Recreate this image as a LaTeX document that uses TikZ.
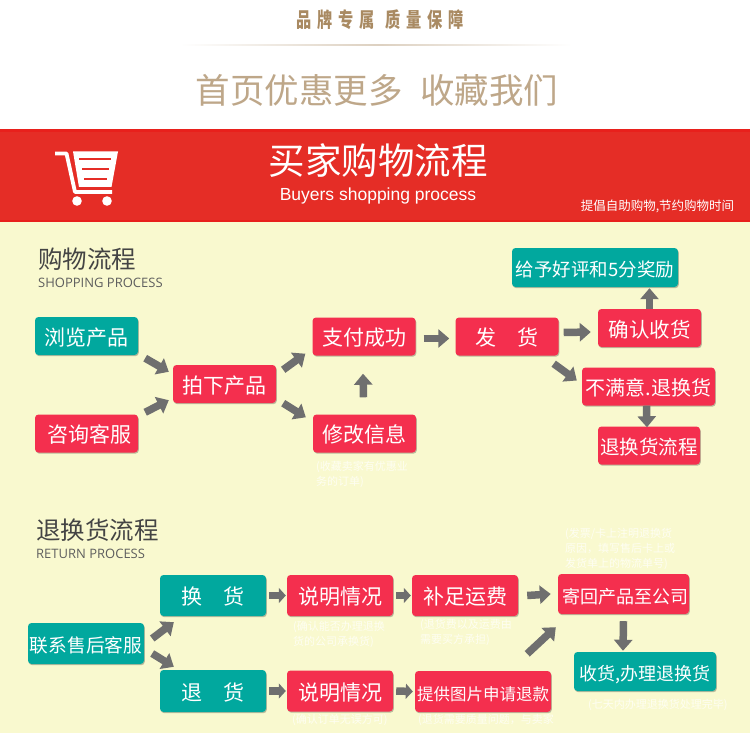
\documentclass[tikz,border=0pt]{standalone}
\usepackage{fontspec}
\usetikzlibrary{arrows.meta,calc,shadows}
\setmainfont{Noto Sans CJK SC}
\setsansfont{Liberation Sans}
\newfontfamily\latinhead{Open Sans}
\definecolor{bgyellow}{HTML}{F9F9CF}
\definecolor{bandred}{HTML}{E52D26}
\definecolor{bandedge}{HTML}{E8201C}
\definecolor{boxred}{HTML}{F42F4E}
\definecolor{boxteal}{HTML}{01A89E}
\definecolor{arrowgray}{HTML}{6F6F6F}
\definecolor{tan}{HTML}{A98A62}
\definecolor{headgray}{HTML}{444444}
\definecolor{capwhite}{HTML}{FEFEF2}
\tikzset{
  x=1pt,y=-1pt,
  flowbox/.style={rounded corners=3.5pt,text=white,inner sep=0pt,anchor=center,align=center,
    text height=18pt,text depth=0pt,
    font=\fontsize{21}{21}\selectfont,
    drop shadow={shadow xshift=0.8pt,shadow yshift=-1.2pt,fill=black,opacity=0.25}},
  redbox/.style={flowbox,fill=boxred},
  tealbox/.style={flowbox,fill=boxteal},
  flow/.style={draw=arrowgray,line width=7.5pt,-{Triangle[length=11pt,width=18pt]}},
  smallflow/.style={draw=arrowgray,line width=7.5pt,-{Triangle[length=7pt,width=15pt]}},
  caption/.style={text=capwhite,align=left,anchor=north west,inner sep=0pt,
    font=\fontsize{11}{15}\selectfont},
}
\begin{document}
\begin{tikzpicture}
\useasboundingbox (0,0) rectangle (750,733);
\fill[white] (0,0) rectangle (750,733);
\fill[bgyellow] (0,222) rectangle (750,733);
\fill[bandred] (0,129) rectangle (750,222);
\fill[bandedge] (0,129) rectangle (750,132);
\fill[bandedge] (0,220) rectangle (750,222);

% top heading
\node[text=tan,inner sep=0pt,font=\fontsize{19}{19}\bfseries\selectfont] (brand) at (380,20) {\scalebox{0.8}[1.08]{\addfontfeature{LetterSpace=38}品牌专属\hspace{14pt}质量保障}};
\shade[left color=white,right color=tan!40] (180,44.6) rectangle (378,45.4);
\shade[left color=tan!40,right color=white] (378,44.6) rectangle (572,45.4);
\node[text=tan!75,inner sep=0pt,font=\fontsize{34.5}{34.5}\selectfont] (slogan) at (377,90) {首页优惠更多\hspace{18pt}收藏我们};

% band
\node[text=white,inner sep=0pt,font=\fontsize{36.5}{36.5}\selectfont] (title) at (378,161) {买家购物流程};
\node[text=white,inner sep=0pt,font=\sffamily\fontsize{17.5}{17.5}\selectfont] (subtitle) at (378,196) {Buyers shopping process};
\node[text=white,inner sep=0pt,font=\fontsize{12.5}{12.5}\selectfont] (slogan2) at (657.5,206) {提倡自助购物,节约购物时间};

% cart
\fill[white] (73,151.5) -- (118,151.5) -- (111.5,187) -- (79,187) -- cycle;
\draw[white,line width=3.8pt,line join=round] (55,153.5) -- (66.5,153.5) -- (75,192) -- (112,192);
\fill[white] (77,201) circle (4.8);
\fill[white] (107,201) circle (4.8);
\draw[bandred,line width=2pt] (79,159) -- (111,159) (82,169) -- (109,169) (84,179) -- (107,179);

% section headings
\node[text=headgray,anchor=west,inner sep=0pt,font=\fontsize{24.5}{24.5}\selectfont] (h1) at (38,259) {购物流程};
\node[text=arrowgray!85!black,anchor=west,inner sep=0pt,font=\latinhead\fontsize{13}{13}\selectfont] (h1e) at (38,283) {SHOPPING PROCESS};
\node[text=headgray,anchor=west,inner sep=0pt,font=\fontsize{24.5}{24.5}\selectfont] (h2) at (36,530) {退换货流程};
\node[text=arrowgray!85!black,anchor=west,inner sep=0pt,font=\latinhead\fontsize{13}{13}\selectfont] (h2e) at (36,554) {RETURN PROCESS};

% shopping process
\node[tealbox,minimum width=103pt,minimum height=38pt] (browse) at (86.5,336) {浏览产品};
\node[redbox,minimum width=103pt,minimum height=38pt] (consult) at (86.5,433.5) {\hspace*{5pt}咨询客服};
\node[redbox,minimum width=103pt,minimum height=38pt] (order) at (224.5,384) {拍下产品};
\node[redbox,minimum width=103pt,minimum height=38pt] (paid) at (364,336.5) {支付成功};
\node[redbox,minimum width=103pt,minimum height=38pt] (modify) at (364.5,433.5) {修改信息};
\node[redbox,minimum width=103pt,minimum height=38pt] (ship) at (507,336.5) {发\hspace{21pt}货};
\node[tealbox,minimum width=166pt,minimum height=39pt,font=\fontsize{18.5}{18.5}\selectfont] (praise) at (595,267.5) {给予好评和5分奖励};
\node[redbox,minimum width=103pt,minimum height=38pt,font=\fontsize{20.5}{20.5}\selectfont] (confirm) at (649.5,328) {确认收货};
\node[redbox,minimum width=133pt,minimum height=38pt,font=\fontsize{20}{20}\selectfont] (unhappy) at (648.5,386.5) {不满意.退换货};
\node[redbox,minimum width=102pt,minimum height=38pt,font=\fontsize{19.5}{19.5}\selectfont] (retflow) at (649,445.5) {退换货流程};

\draw[flow] ($(browse.south east)+(7,3)$) -- ($(order.north west)+(-4,7)$);
\draw[flow] ($(consult.north east)+(7,-2)$) -- ($(order.south west)+(-4,-3)$);
\draw[flow] ($(order.north east)+(7,5)$) -- ($(paid.south west)+(-7,-2)$);
\draw[flow] ($(order.south east)+(7,0)$) -- ($(modify.north west)+(-7,3)$);
\draw[flow] ($(modify.north)+(-1,-17)$) -- ($(paid.south)+(-1,18)$);
\draw[flow] ($(paid.east)+(8,2)$) -- ($(ship.west)+(-6,2)$);
\draw[flow] ($(ship.east)+(5,-4)$) -- ($(confirm.west)+(-7,4)$);
\draw[flow] ($(ship.south east)+(-5,8)$) -- ($(unhappy.west)+(-5,-6)$);
\draw[flow] (confirm.north) -- ($(praise.south)+(54.5,1)$);
\draw[flow] ($(unhappy.south)+(-2,0)$) -- ($(retflow.north)+(-2,1)$);

% return process
\node[tealbox,minimum width=116pt,minimum height=41pt,font=\fontsize{18.7}{18.7}\selectfont] (contact) at (86,643.5) {联系售后客服};
\node[tealbox,minimum width=106pt,minimum height=41pt] (exch) at (213,595.5) {换\hspace{21pt}货};
\node[tealbox,minimum width=106pt,minimum height=42pt] (refund) at (213,691) {退\hspace{21pt}货};
\node[redbox,minimum width=106pt,minimum height=41pt] (state1) at (340,595.5) {说明情况};
\node[redbox,minimum width=106pt,minimum height=41pt] (state2) at (340,691) {说明情况};
\node[redbox,minimum width=106pt,minimum height=41pt] (topup) at (465,595.5) {补足运费};
\node[redbox,minimum width=136pt,minimum height=41pt,font=\fontsize{16.5}{16.5}\selectfont] (photo) at (483,691.5) {提供图片申请退款};
\node[redbox,minimum width=131pt,minimum height=40pt,font=\fontsize{18}{18}\selectfont] (sendback) at (623.5,594) {\hspace*{3pt}寄回产品至公司};
\node[tealbox,minimum width=142pt,minimum height=39pt,font=\fontsize{18}{18}\selectfont] (receive) at (645,671.5) {收货,办理退换货};

\draw[flow] ($(contact.east)+(8,-5)$) -- ($(exch.south west)+(14,6)$);
\draw[flow] ($(contact.east)+(8,10)$) -- ($(refund.north west)+(14,-3)$);
\draw[smallflow] ($(exch.east)+(3,0)$) -- ($(state1.west)+(-1,0)$);
\draw[smallflow] ($(refund.east)+(3,0)$) -- ($(state2.west)+(-1,0)$);
\draw[smallflow] ($(state1.east)+(3,0)$) -- ($(topup.west)+(-1,0)$);
\draw[smallflow] ($(state2.east)+(3,0)$) -- ($(photo.west)+(-2,0)$);
\draw[flow] ($(topup.east)+(9,0)$) -- ($(sendback.west)+(-7,0)$);
\draw[flow] ($(photo.north east)+(-24,-17)$) -- ($(sendback.south west)+(-2,13)$);
\draw[flow] ($(sendback.south)+(0,7)$) -- ($(receive.north)+(-22,-1)$);

% faint captions
\node[caption] (cap1) at (316,461) {(收藏卖家有优惠业\\务的订单)};
\node[caption] (cap2) at (565,528) {(发票/卡上注明退换货\\原因，填写售后卡上或\\发货单上的物流单号)};
\node[caption] (cap3) at (293,621) {(确认能否办理退换\\货的公司承换货)};
\node[caption] (cap4) at (420,619) {(退货费以及运费由\\需要买方承担)};
\node[caption] (cap5) at (292,714) {(确认订单无误方可)};
\node[caption] (cap6) at (418,714) {(退货需要质量问题，与卖家};
\node[caption] (cap7) at (588,699) {(七天内办理退换货处理完毕)};
\end{tikzpicture}
\end{document}
